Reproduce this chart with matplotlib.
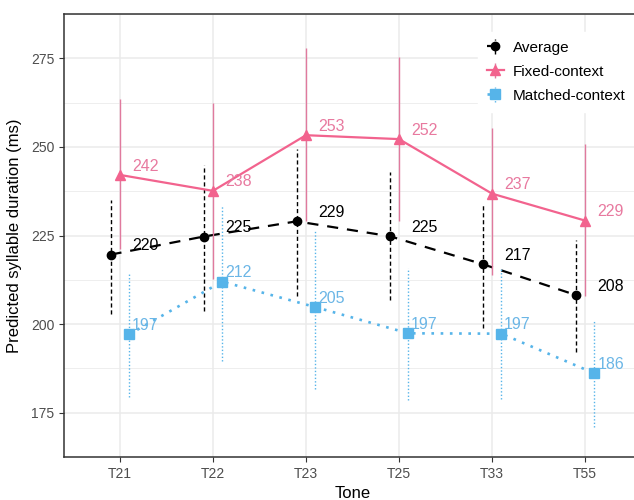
import matplotlib
matplotlib.use("Agg")
import matplotlib.pyplot as plt
import numpy as np

plt.rcParams['font.family'] = ['Liberation Sans', 'DejaVu Sans']

# --- values -----------------------------------------------------------------
tones = ["T21", "T22", "T23", "T25", "T33", "T55"]

avg = [219.6, 224.7, 229.0, 224.8, 216.9, 208.2]
avg_lo = [202.8, 203.6, 208.0, 206.7, 199.0, 192.0]
avg_hi = [235.0, 245.0, 249.3, 243.0, 233.7, 223.6]

fixed = [242.1, 237.6, 253.3, 252.2, 236.8, 229.2]
fixed_lo = [221.3, 212.8, 229.2, 229.2, 213.9, 208.0]
fixed_hi = [263.6, 262.3, 277.9, 275.3, 255.4, 250.9]

matched = [197.1, 212.0, 204.8, 197.4, 197.3, 186.1]
matched_lo = [179.5, 189.6, 181.6, 178.7, 179.0, 171.0]
matched_hi = [214.0, 233.7, 226.6, 215.7, 215.7, 201.0]

series = [
    # label, values, lo, hi, dodge, colour, text colour, line style, errbar style, marker
    ("Average", avg, avg_lo, avg_hi, -0.1, "black", "black", (0, (5, 4)), (0, (3, 2)), "o"),
    ("Fixed-context", fixed, fixed_lo, fixed_hi, 0.0, "#F2638E", "#E8799F", "-", "-", "^"),
    ("Matched-context", matched, matched_lo, matched_hi, 0.1, "#56B4E9", "#6BB6E6", (0, (1, 2.5)), (0, (1, 1.5)), "s"),
]

fig = plt.figure(figsize=(6.34, 5.0), dpi=100)
ax = fig.add_axes([64 / 634, 43 / 500, 577 / 634, 443 / 500])

x = np.arange(1, len(tones) + 1)
handles = []
for k, (name, vals, lo, hi, dx, col, tcol, ls, els, mk) in enumerate(series):
    vals = np.array(vals)
    yerr = [vals - np.array(lo), np.array(hi) - vals]
    err_col = col if k != 1 else "#E07A9E"
    cont = ax.errorbar(x + dx, vals, yerr=yerr, fmt=mk, color=col, ecolor=err_col,
                       markersize=6.5 if mk != "o" else 6, elinewidth=1.0, capsize=0,
                       linestyle=ls, linewidth=1.6 if k != 2 else 1.9, zorder=3 + k)
    cont[2][0].set_linestyle(els)
    cont.set_label(name)
    handles.append(cont)
    for xi, v in zip(x, vals):
        ax.text(xi + 0.13, v + 2.5, f"{v:.0f}", color=tcol, fontsize=11.5,
                ha="left", va="center", zorder=10)

ax.set_xlim(0.4, 6.6)
ax.set_ylim(166, 283)
ax.set_xticks(x)
ax.set_xticklabels(tones)
ax.set_yticks([175, 200, 225, 250, 275])
ax.set_yticks(np.arange(162.5, 290, 25), minor=True)
ax.grid(True, which="major", color="#EBEBEB", linewidth=1.1, zorder=0)
ax.grid(True, which="minor", axis="y", color="#EBEBEB", linewidth=0.6, zorder=0)
ax.set_axisbelow(True)
ax.tick_params(which="major", length=3.5, width=0.8, color="#333333",
               labelsize=10, labelcolor="#4D4D4D")
ax.tick_params(which="minor", length=0)
for s in ax.spines.values():
    s.set_color("#333333")
    s.set_linewidth(1.1)

ax.set_xlabel("Tone", fontsize=12, labelpad=4)
ax.set_ylabel("Predicted syllable duration (ms)", fontsize=12, labelpad=6)

leg = fig.legend(handles=handles, loc="upper left", bbox_to_anchor=(470 / 634, 1 - 24 / 500),
                 bbox_transform=fig.transFigure, frameon=True, fontsize=11,
                 handlelength=1.1, handletextpad=0.6, labelspacing=0.65,
                 borderpad=0.6, fancybox=False)
leg.get_frame().set_edgecolor("white")
leg.get_frame().set_facecolor("white")
leg.get_frame().set_alpha(1)

fig.savefig("out.png", dpi=100)
